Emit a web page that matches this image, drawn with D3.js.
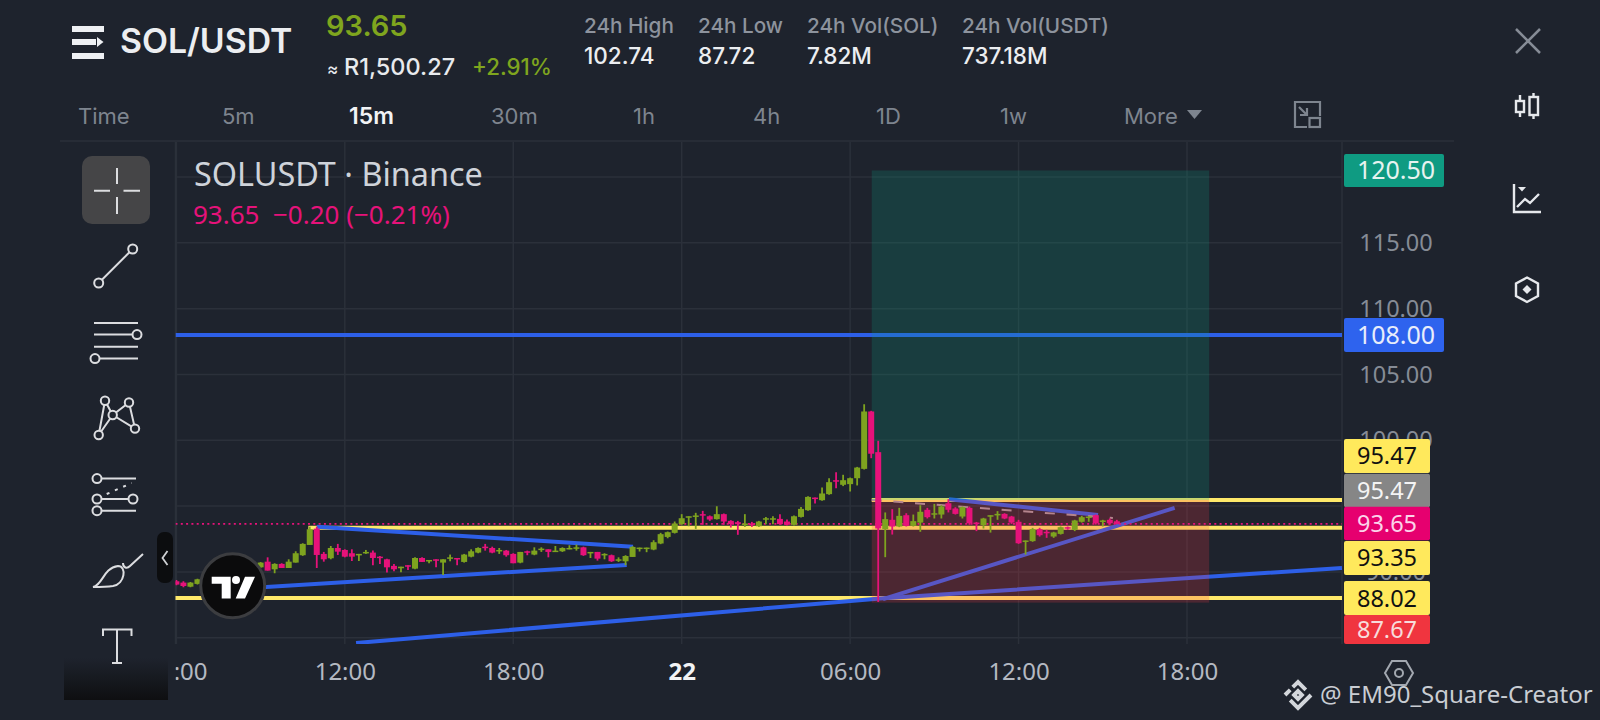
<!DOCTYPE html>
<html><head><meta charset="utf-8">
<script src="https://cdn.jsdelivr.net/npm/d3@7/dist/d3.min.js"></script>
<style>html,body{margin:0;padding:0;background:#1e232d;overflow:hidden}svg{display:block}</style>
</head><body><svg id="c" width="1600" height="720"></svg>
<script>
// ---------- data ----------
const firstCandleIndex = -72; // 15-minute candles, index 0 = day 22 00:00
const candleDirs = "rrgg"+"grggrggr"+"g"+"rgrggggrrg"+"rrrggrrrrg"+"rgrgrggrgg"+"grrgrrgrgg"+"rggggrgrgr"+"gggggggggg"+"ggrrgrrrgr"+"gggrrgggrg"+"grggggrrgr"+"grggrggrrg"+"rrgggrrrgg"+"rrggrgggrg"+"rr";
const bodyTops = [89.29,89.19,89.19,89.44,89.65,89.65,89.75,89.95,89.95,90.1,90.3,90.3,90.71,90.78,90.61,90.61,90.78,91.42,92.13,93.24,93.29,91.37,91.82,91.82,91.67,91.42,91.37,91.52,91.47,91.16,90.96,90.46,90.40,90.51,91.06,91.06,90.91,90.96,90.96,91.11,91.06,91.32,91.57,91.82,91.92,91.82,91.67,91.62,91.37,91.52,91.57,91.62,91.77,91.72,91.62,91.82,91.82,91.87,91.87,91.52,91.52,91.37,91.27,90.96,91.21,
91.90,91.85,91.85,92.26,92.87,93.02,93.68,94.08,94.23,94.29,94.39,94.23,94.39,94.39,93.88,93.78,93.68,93.68,93.83,94.08,94.08,94.03,93.83,94.23,94.79,95.70,95.65,95.96,96.82,96.97,96.97,97.12,97.93,102.19,102.19,99.10,
94.01,93.96,94.26,94.31,93.86,94.57,94.72,94.46,94.97,95.22,94.82,94.92,94.87,93.75,94.06,94.31,94.41,94.41,94.21,93.81,92.39,93.25,93.25,93.05,93.00,93.40,93.40,93.91,94.16,94.21,94.31,93.91,93.96,93.85];
const bodyBottoms = [89.04,88.93,88.88,89.09,89.40,89.5,89.5,89.75,89.8,89.8,90.1,90.2,90.35,90.10,90.20,90.30,90.30,90.71,91.27,92.05,91.29,90.96,91.04,91.54,91.16,91.16,91.27,91.42,91.06,91.06,90.35,90.20,90.28,90.40,90.25,90.76,90.81,90.86,90.71,91.01,90.96,90.76,91.16,91.47,91.82,91.47,91.57,91.27,90.66,90.71,91.47,91.32,91.67,91.52,91.54,91.57,91.75,91.80,91.27,91.44,91.01,91.27,90.81,90.86,90.81,
91.14,91.75,91.75,91.70,92.16,92.66,92.97,93.63,94.13,94.18,94.29,93.98,94.01,93.83,93.63,93.63,93.58,93.55,93.47,93.98,93.98,93.63,93.58,93.58,94.18,94.69,95.55,95.45,95.91,96.87,96.62,96.67,97.12,97.83,98.98,93.30,
93.25,93.45,93.45,93.50,93.50,93.75,94.16,94.36,94.36,94.72,94.41,94.21,93.70,93.65,93.55,94.21,94.31,94.06,93.75,92.18,92.29,92.34,92.79,92.94,92.69,92.89,93.30,93.20,93.81,94.11,93.70,93.81,93.70,93.65];
const highs = [89.39,89.29,89.24,89.49,89.7,89.75,89.85,90.05,90.0,90.15,90.4,90.35,90.75,91.11,90.66,90.66,90.96,91.57,92.18,93.44,93.44,91.52,91.97,92.13,91.72,91.72,91.37,91.67,91.62,91.21,91.01,90.61,90.40,90.51,91.11,91.11,90.91,90.96,90.96,91.32,91.06,91.37,91.72,91.87,92.13,91.92,91.82,91.67,91.42,91.52,91.62,91.87,91.87,91.72,91.97,91.87,92.03,92.08,91.92,91.52,91.52,91.42,91.32,91.11,91.27,
91.96,91.85,91.85,92.41,92.97,93.07,93.83,94.39,94.23,94.49,94.64,94.29,94.99,94.44,93.93,93.88,94.39,93.80,93.88,94.18,94.23,94.39,93.98,94.29,94.94,95.75,95.65,96.41,97.12,97.58,97.38,97.17,97.98,102.74,102.24,99.96,
94.52,94.77,94.87,94.46,94.36,95.07,94.87,95.17,95.07,95.53,94.92,94.97,94.97,93.80,94.11,94.31,94.62,94.46,94.26,93.96,92.39,93.35,93.35,93.20,93.05,93.45,93.45,93.96,94.26,94.21,94.36,93.96,94.06,93.96];
const lows = [88.99,88.83,88.83,89.04,89.35,89.45,89.45,89.7,89.75,89.75,90.05,90.1,90.3,90.10,89.90,90.30,90.30,90.71,91.22,92.05,90.30,90.78,90.96,91.29,91.11,90.83,90.83,91.37,90.51,90.61,89.95,90.05,89.98,90.15,90.20,90.76,90.66,90.35,89.77,90.81,90.51,90.71,91.11,91.42,91.62,91.42,91.37,91.16,90.66,90.66,91.27,91.27,91.52,91.11,91.52,91.52,91.72,91.62,91.22,91.06,90.86,90.96,90.76,90.76,90.51,
91.14,91.55,91.50,91.65,92.11,92.56,92.92,93.58,93.47,93.27,93.58,93.88,93.98,93.58,93.37,92.82,93.42,93.42,93.42,93.63,93.63,93.58,93.53,93.53,94.13,94.64,95.20,95.40,95.86,96.36,96.52,96.11,96.57,97.78,98.64,87.72,
91.12,92.84,93.40,93.45,93.45,93.05,94.06,94.06,94.06,94.52,94.36,94.06,93.58,93.10,93.30,92.99,93.96,94.01,93.65,92.13,91.32,92.29,92.69,92.59,92.59,92.84,93.20,93.10,93.75,93.81,93.60,93.45,93.60,93.62];

const gridPrices = [120,115,110,105,100,95,90,85];
const priceTickLabels = [115,110,105,100,90];
const timeTickHours = [-18,-12,-6,0,6,12,18];
const timeTickLabels = ["06:00","12:00","18:00","22","06:00","12:00","18:00"];
const lastPrice = 93.65;
const levelPrices = [95.47,93.35,88.02];
const levelStartHours = [6.77,-13.3,-18.3];
const blueLevel = 108;
const trendLines = [
  [[-13.0,93.44],[-1.735,91.92]],
  [[-16.8,88.59],[-1.96,90.53]],
  [[-11.6,84.6],[7.07,87.98],[23.52,90.30]],
  [[7.17,87.94],[17.56,94.86]],
  [[9.52,95.52],[14.83,94.33]]];
const dashedLine = [[6.77,95.47],[15.36,94.10]];
const positionHours = [6.77,18.79];
const positionTarget = 120.5, positionEntry = 95.47, positionStop = 87.67;
const tagLabels = ["120.50","108.00","95.47","95.47","93.65","93.35","88.02","87.67"];
// tags stack up so they do not collide: price level at which each tag is centred
const tagAnchors = [120.5,108,98.81,96.19,93.68,91.06,88.02,85.63];

// ---------- scales ----------
const L=175.5,R=1342,T=142,B=644;
const x=d3.scaleLinear().domain([0,18]).range([681.7,1187]);
const y=d3.scaleLinear().domain([88.02,108]).range([598,335]);
const svg=d3.select("#c");
const FONT='"Noto Sans",sans-serif', HEAD='Inter,"Noto Sans",sans-serif';
const BG="#1e232d",GRID="#2b303a",GREEN="#7ea31f",RED="#e6127a",YEL="#ffe96a",BLUE="#2d5fe8";
const tagFill=["#0f9b82","#2e63ee","#ffe95c","#868686","#e6006f","#ffe95c","#ffe95c","#f0353f"];
const tagInk=["#e6f3f0","#e8edfb","#111","#f4f4f4","#fbd3ea","#111","#111","#f7dcdc"];
const tagWide=[100,100,86,86,86,86,86,86];
const tagTall=[33,34,34,33.5,33.5,34,34,29];
svg.append("rect").attr("width",1600).attr("height",720).attr("fill",BG);
const defs=svg.append("defs");
defs.append("clipPath").attr("id","plot").append("rect").attr("x",L).attr("y",T).attr("width",R-L).attr("height",B-T);
const g0=defs.append("linearGradient").attr("id","fade").attr("x1",0).attr("x2",0).attr("y1",0).attr("y2",1);
g0.append("stop").attr("offset",0).attr("stop-color",BG);
g0.append("stop").attr("offset",1).attr("stop-color","#0e0f11");

function txt(s,xx,yy,size,fill,weight,font,anchor){return svg.append("text").text(s).attr("x",xx).attr("y",yy)
  .attr("font-size",size).attr("fill",fill).attr("font-weight",weight||400).attr("font-family",font||HEAD).attr("text-anchor",anchor||"start");}

// ---------- header ----------
const hb=svg.append("g").attr("fill","#eef0f3");
hb.append("rect").attr("x",72).attr("y",26).attr("width",32).attr("height",6);
hb.append("rect").attr("x",72).attr("y",39).attr("width",24).attr("height",6);
hb.append("path").attr("d","M97 37 L103.5 42 L97 47Z");
hb.append("rect").attr("x",72).attr("y",53).attr("width",32).attr("height",6);
txt("SOL/USDT",120,53,33.8,"#eceef1",600);
txt("93.65",326,36,29,"#7fa51e",600);
txt("≈",327,75,17,"#e8eaed",500);
txt("R1,500.27",344,75,23.5,"#e8eaed",500);
txt("+2.91%",472,75,22.3,"#7fa51e",500);
const statLabels=["24h High","24h Low","24h Vol(SOL)","24h Vol(USDT)"],statValues=["102.74","87.72","7.82M","737.18M"],statX=[584,698,807,962];
statLabels.forEach((s,i)=>{txt(s,statX[i],33,20.7,"#8d939d",500);txt(statValues[i],statX[i],64,22.5,"#eceef1",500);});
const tabs=["Time","5m","15m","30m","1h","4h","1D","1w","More"],tabX=[78,222,349,491,633,753,876,1000,1124];
tabs.forEach((s,i)=>txt(s,tabX[i],124,i==2?23:22,i==2?"#f2f3f5":"#7e858f",i==2?600:400));
svg.append("path").attr("d","M1187 110 L1202 110 L1194.5 119Z").attr("fill","#7e858f");
const ic=svg.append("g").attr("fill","none").attr("stroke","#7e858f").attr("stroke-width",2.2);
ic.append("path").attr("d","M1320 116 V102 H1295 V127 H1307 M1299 107 L1307 115 M1307 108 V115 H1300");
ic.append("rect").attr("x",1309.5).attr("y",118).attr("width",10.5).attr("height",9);
svg.append("line").attr("x1",60).attr("x2",1454).attr("y1",141).attr("y2",141).attr("stroke",GRID).attr("stroke-width",1.5);
svg.append("path").attr("d","M1516 29 L1540 53 M1540 29 L1516 53").attr("stroke","#868c96").attr("stroke-width",2.5);

// ---------- right rail ----------
const rr=svg.append("g").attr("fill","none").attr("stroke","#e6e8ec").attr("stroke-width",2.4);
rr.append("path").attr("d","M1520 95 V117 M1533.5 93 V119");
rr.append("rect").attr("x",1516).attr("y",101).attr("width",8).attr("height",11).attr("fill",BG);
rr.append("rect").attr("x",1529.5).attr("y",97).attr("width",8.5).attr("height",18).attr("fill",BG);
rr.append("path").attr("d","M1514 184 V212 H1541 M1517 207 L1525 199 L1530 203 L1539 194");
rr.append("path").attr("d","M1518 187 H1526 L1522 191.5Z").attr("fill","#e6e8ec").attr("stroke","none");
rr.append("path").attr("d","M1527 277.5 L1538 283.5 V296 L1527 302 L1516 296 V283.5Z");
rr.append("path").attr("d","M1527 285 L1531.5 289.5 L1527 294 L1522.5 289.5Z").attr("fill","#e6e8ec").attr("stroke","none");

// ---------- grid ----------
const grid=svg.append("g").attr("stroke",GRID).attr("stroke-width",1.5);
gridPrices.forEach(p=>grid.append("line").attr("x1",L).attr("x2",R).attr("y1",y(p)).attr("y2",y(p)));
timeTickHours.forEach(h=>grid.append("line").attr("x1",x(h)).attr("x2",x(h)).attr("y1",T).attr("y2",B));
grid.append("line").attr("x1",R).attr("x2",R).attr("y1",T).attr("y2",B);
grid.append("line").attr("x1",L).attr("x2",L).attr("y1",T).attr("y2",B);

// ---------- axes ----------
const yAxis=d3.axisRight(y).tickValues(priceTickLabels).tickSize(0).tickFormat(d3.format(".2f"));
const ya=svg.append("g").attr("transform",`translate(1396,0)`).call(yAxis);
ya.select(".domain").remove();
ya.selectAll("text").attr("x",0).attr("text-anchor","middle").attr("font-size",23.5).attr("font-family",FONT).attr("fill","#868c96");
defs.append("clipPath").attr("id","xclip").append("rect").attr("x",L).attr("y",640).attr("width",1250).attr("height",70);
const xClip=svg.append("g").attr("clip-path","url(#xclip)");
const xAxis=d3.axisBottom(x).tickValues(timeTickHours).tickSize(0).tickFormat((d,i)=>timeTickLabels[i]);
const xa=xClip.append("g").attr("transform","translate(0,660)").call(xAxis);
xa.select(".domain").remove();
xa.selectAll("text").attr("font-size",24).attr("font-family",FONT).attr("fill","#b4b9c2")
  .attr("font-weight",(d)=>d===0?700:400).filter(d=>d===0).attr("fill","#f2f3f5");

// ---------- drawings ----------
const plot=svg.append("g").attr("clip-path","url(#plot)");
const line=d3.line().x(d=>x(d[0])).y(d=>y(d[1]));
plot.append("line").attr("x1",L).attr("x2",R).attr("y1",y(blueLevel)).attr("y2",y(blueLevel)).attr("stroke",BLUE).attr("stroke-width",4);
plot.selectAll(".lvl").data(levelPrices).join("line").attr("x1",(d,i)=>x(levelStartHours[i])).attr("x2",R)
  .attr("y1",d=>y(d)).attr("y2",d=>y(d)).attr("stroke",YEL).attr("stroke-width",4);
plot.selectAll(".tr").data(trendLines).join("path").attr("d",line).attr("fill","none").attr("stroke",BLUE).attr("stroke-width",4);
plot.append("path").attr("d",line(dashedLine)).attr("fill","none").attr("stroke","#a39aa2").attr("stroke-width",2).attr("stroke-dasharray","10 11.7");
// position box
plot.append("rect").attr("x",x(positionHours[0])).attr("width",x(positionHours[1])-x(positionHours[0]))
  .attr("y",y(positionTarget)).attr("height",y(positionEntry)-y(positionTarget)).attr("fill","rgba(8,153,129,.22)");
plot.append("rect").attr("x",x(positionHours[0])).attr("width",x(positionHours[1])-x(positionHours[0]))
  .attr("y",y(positionEntry)).attr("height",y(positionStop)-y(positionEntry)).attr("fill","rgba(242,54,69,.22)");
plot.append("line").attr("x1",L).attr("x2",R).attr("y1",y(lastPrice)).attr("y2",y(lastPrice)).attr("stroke",RED).attr("stroke-width",1.8).attr("stroke-dasharray","2 3.3");

// ---------- candles ----------
const candles=bodyTops.map((t,i)=>({i:firstCandleIndex+i,top:t,bot:bodyBottoms[i],hi:highs[i],lo:lows[i],up:candleDirs[i]==="g"}));
const cg=plot.selectAll(".c").data(candles).join("g").attr("fill",d=>d.up?GREEN:RED).attr("stroke",d=>d.up?GREEN:RED);
cg.append("line").attr("x1",d=>x(d.i/4)).attr("x2",d=>x(d.i/4)).attr("y1",d=>y(d.hi)).attr("y2",d=>y(d.lo)).attr("stroke-width",1.8);
cg.append("rect").attr("x",d=>x(d.i/4)-3).attr("width",6).attr("y",d=>y(d.top)).attr("height",d=>Math.max(1.5,y(d.bot)-y(d.top))).attr("stroke","none");

// ---------- price tags ----------
const tagG=svg.selectAll(".tag").data(tagLabels).join("g");
tagG.append("rect").attr("x",1344).attr("width",(d,i)=>tagWide[i]).attr("y",(d,i)=>y(tagAnchors[i])-tagTall[i]/2).attr("height",(d,i)=>tagTall[i]).attr("rx",2).attr("fill",(d,i)=>tagFill[i]);
tagG.append("text").text(d=>d).attr("x",(d,i)=>i<2?1396:1387).attr("y",(d,i)=>y(tagAnchors[i])+8.5).attr("text-anchor","middle").attr("font-size",(d,i)=>i<2?25:23.5).attr("font-family",FONT).attr("fill",(d,i)=>tagInk[i]);

// ---------- chart legend ----------
txt("SOLUSDT · Binance",194,186,32.4,"#cfd3da",400,FONT);
txt("93.65  −0.20 (−0.21%)",193,224,26,RED,400,FONT).style("white-space","pre");

// ---------- logo ----------
const lg=svg.append("g").attr("transform","translate(232.7,585.7)");
lg.append("circle").attr("r",32).attr("fill","#0b0b0c").attr("stroke","#3c3d40").attr("stroke-width",3);
lg.append("path").attr("fill","#fff").attr("d","M-21 -9 H-2 V12.7 H-11 V-2 H-21Z M12.3 -9 H22.3 L12.3 12.7 H3Z");
lg.append("circle").attr("cx",3.3).attr("cy",-5.7).attr("r",4).attr("fill","#fff");

// ---------- toolbar ----------
svg.append("rect").attr("x",64).attr("y",658).attr("width",104).attr("height",42).attr("fill","url(#fade)");
svg.append("rect").attr("x",82).attr("y",156).attr("width",68).attr("height",68).attr("rx",10).attr("fill","#454547");
const tb=svg.append("g").attr("fill","none").attr("stroke","#dcdde0").attr("stroke-width",2);
tb.append("path").attr("d","M94 190.7 H110 M123.5 190.7 H140 M117 168 V184 M117 197 V214");
const dot=(cx,cy,r)=>tb.append("circle").attr("cx",cx).attr("cy",cy).attr("r",r||4.5).attr("fill",BG);
tb.append("path").attr("d","M98.7 283 L132.7 249");dot(98.7,283);dot(132.7,249);
tb.append("path").attr("d","M94 323 H138 M94 334.6 H138 M94 346.8 H138 M94 358.6 H138");dot(137,334.6);dot(95,358.6);
tb.append("path").attr("d","M105 400.7 L98.7 435 L112.7 415 L105 400.7 M112.7 415 L129 402.5 L135 428.6 L112.7 415");
[[105,400.7],[129,402.5],[112.7,415],[98.7,435],[135,428.6]].forEach(p=>dot(p[0],p[1],4.2));
tb.append("path").attr("d","M97 478.6 H136 M97 499 H133 M97 510.7 H136");
tb.append("path").attr("d","M106.7 494 L131.7 483").attr("stroke-dasharray","3 6");
dot(97,478.6);dot(97,499);dot(133,499);dot(97,510.7);
tb.append("path").attr("d","M93 587 C103 585 103 568 118 566 C127 566 125 584 113 586 C106 587 100 587 93 587Z M123 563 C123 568 127 569 130 566 L143 554");
tb.append("path").attr("d","M103 636 V629.5 H131.5 V636 M117 629.5 V663 M112 663 H122");
svg.append("rect").attr("x",157).attr("y",532).attr("width",16).attr("height",51).attr("rx",7).attr("fill","#0c0d0f");
svg.append("path").attr("d","M167.5 551 L162.5 558 L167.5 565").attr("fill","none").attr("stroke","#cfd1d4").attr("stroke-width",1.8);

// ---------- bottom right ----------
const hx=svg.append("g").attr("fill","none").attr("stroke","#a3a8b0").attr("stroke-width",2);
hx.append("path").attr("d","M1385 673 L1392 661 H1406 L1413 673 L1406 685 H1392Z");
hx.append("circle").attr("cx",1399).attr("cy",673).attr("r",4);
const bn=svg.append("g").attr("fill","none").attr("stroke","#d3d6db").attr("stroke-width",3).attr("transform","translate(1298,695) scale(1.3)");
bn.append("path").attr("d","M-10 0 L-6 -4 M-6 4 L-2 8 L0 10 L10 0 M-4 -6 L0 -10 L6 -4 M-3 0 L0 -3 L3 0 L0 3Z");
txt("@ EM90_Square-Creator",1320,703,24,"#c9cdd3",400,FONT);
</script></body></html>
